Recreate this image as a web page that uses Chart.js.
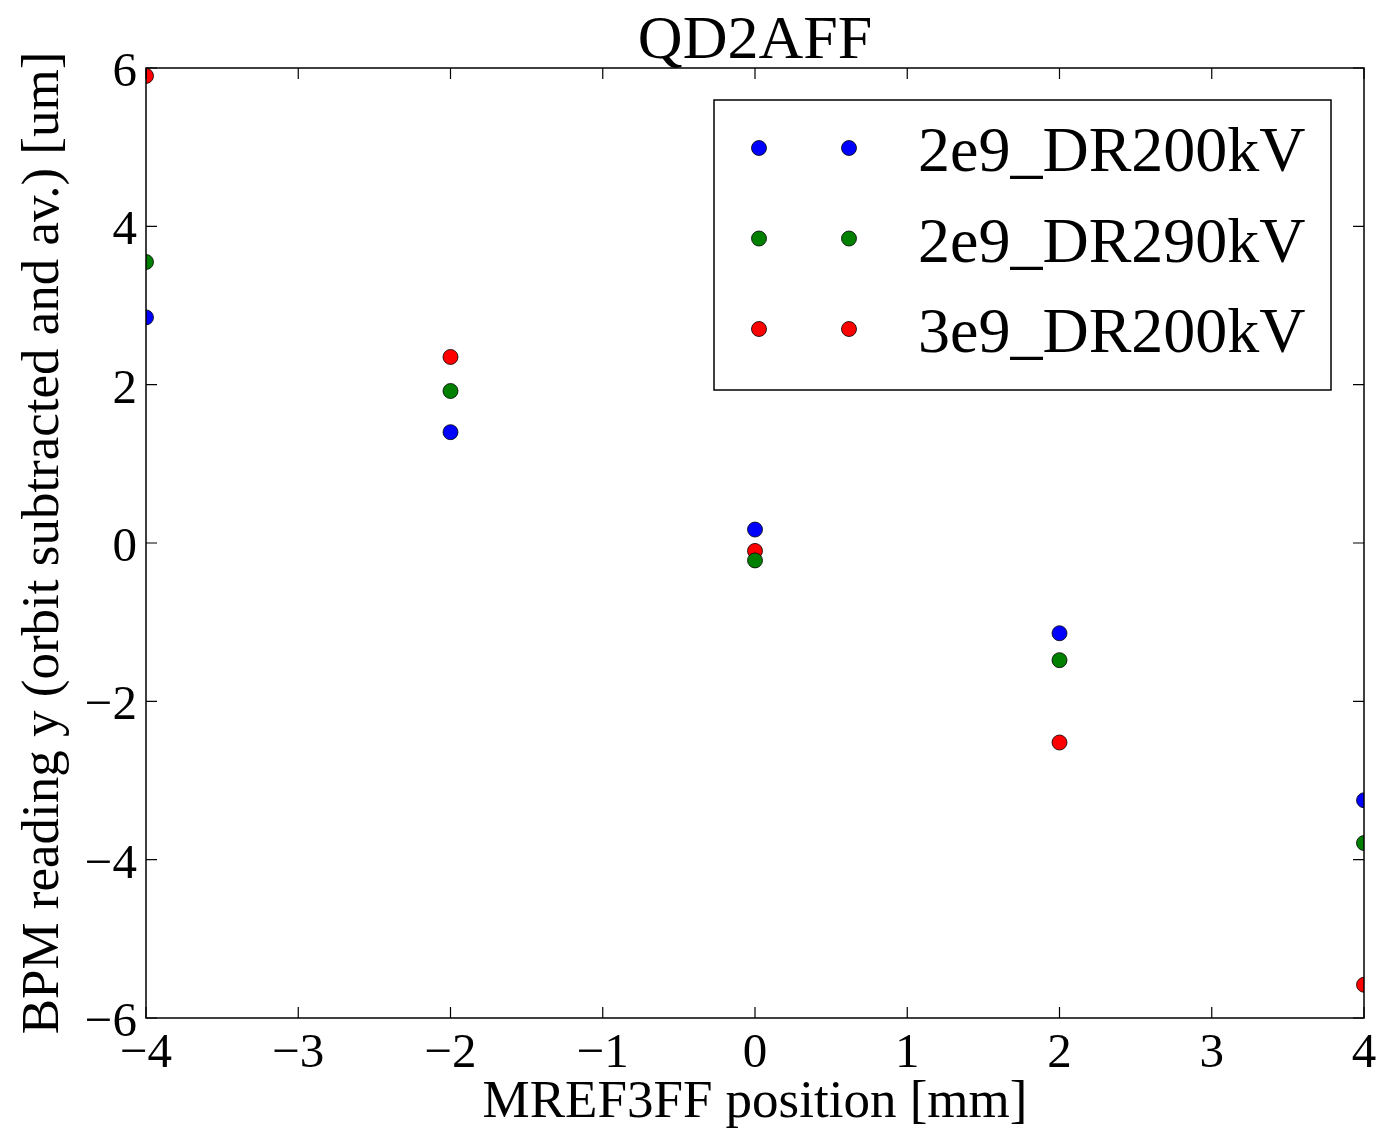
<!DOCTYPE html>
<html>
<head>
<meta charset="utf-8">
<title>QD2AFF</title>
<script src="https://cdn.jsdelivr.net/npm/chart.js@4.4.1/dist/chart.umd.min.js"></script>
<style>
  html, body { margin: 0; padding: 0; background: #fff; }
  canvas { display: block; }
</style>
</head>
<body>
<canvas id="chart" width="1379" height="1130"></canvas>
<script>
// datos
const positions = [-4, -2, 0, 2, 4];
const seriesNames = ['2e9_DR200kV', '2e9_DR290kV', '3e9_DR200kV'];
const dr200_2e9 = [2.85, 1.40, 0.17, -1.14, -3.25];
const dr290_2e9 = [3.55, 1.92, -0.22, -1.48, -3.79];
const dr200_3e9 = [5.90, 2.35, -0.10, -2.52, -5.58];
const seriesColors = ['#0000ff', '#008000', '#ff0000'];
const xTicks = [-4, -3, -2, -1, 0, 1, 2, 3, 4];
const yTicks = [-6, -4, -2, 0, 2, 4, 6];

const serif = '"Liberation Serif", "Times New Roman", serif';
const fmt = v => (v < 0 ? '\u2212' + Math.abs(v) : String(v));

function toPoints(values) {
    return positions.map((x, i) => ({ x: x, y: values[i] }));
}

const allSeries = [dr200_2e9, dr290_2e9, dr200_3e9];

// ejes, ticks, titulos y leyenda al estilo matplotlib
const axesPlugin = {
    id: 'axesPlugin',
    afterDraw(chart) {
        const ctx = chart.ctx;
        const a = chart.chartArea;
        const xs = chart.scales.x;
        const ys = chart.scales.y;
        ctx.save();
        ctx.strokeStyle = '#000';
        ctx.lineWidth = 1.5;
        ctx.strokeRect(a.left, a.top, a.right - a.left, a.bottom - a.top);

        const tl = 11;
        ctx.lineWidth = 1.2;
        ctx.beginPath();
        xTicks.forEach(v => {
            const px = xs.getPixelForValue(v);
            ctx.moveTo(px, a.bottom); ctx.lineTo(px, a.bottom - tl);
            ctx.moveTo(px, a.top); ctx.lineTo(px, a.top + tl);
        });
        yTicks.forEach(v => {
            const py = ys.getPixelForValue(v);
            ctx.moveTo(a.left, py); ctx.lineTo(a.left + tl, py);
            ctx.moveTo(a.right, py); ctx.lineTo(a.right - tl, py);
        });
        ctx.stroke();

        ctx.fillStyle = '#000';
        ctx.font = '49px ' + serif;
        ctx.textAlign = 'center';
        ctx.textBaseline = 'alphabetic';
        xTicks.forEach(v => {
            ctx.fillText(fmt(v), xs.getPixelForValue(v), a.bottom + 49);
        });
        ctx.textAlign = 'right';
        yTicks.forEach(v => {
            ctx.fillText(fmt(v), a.left - 9, ys.getPixelForValue(v) + 18);
        });

        // titulo y etiquetas
        ctx.textAlign = 'center';
        ctx.font = '62px ' + serif;
        ctx.fillText('QD2AFF', (a.left + a.right) / 2, 58);
        ctx.font = '53px ' + serif;
        ctx.fillText('MREF3FF position [mm]', (a.left + a.right) / 2, 1117);
        ctx.save();
        ctx.translate(58, (a.top + a.bottom) / 2);
        ctx.rotate(-Math.PI / 2);
        ctx.fillText('BPM reading y (orbit subtracted and av.) [um]', 0, 0);
        ctx.restore();

        // leyenda
        const lx = 714, ly = 100, lw = 617, lh = 290;
        ctx.fillStyle = '#fff';
        ctx.fillRect(lx, ly, lw, lh);
        ctx.strokeStyle = '#000';
        ctx.lineWidth = 1.5;
        ctx.strokeRect(lx, ly, lw, lh);
        ctx.font = '64px ' + serif;
        ctx.textAlign = 'left';
        seriesNames.forEach((name, i) => {
            const cy = 148 + i * 90.5;
            [759, 849].forEach(mx => {
                ctx.beginPath();
                ctx.arc(mx, cy, 7.5, 0, Math.PI * 2);
                ctx.fillStyle = seriesColors[i];
                ctx.fill();
                ctx.lineWidth = 0.8;
                ctx.strokeStyle = '#000';
                ctx.stroke();
            });
            ctx.fillStyle = '#000';
            ctx.fillText(name, 918, cy + 23);
        });
        ctx.restore();
    }
};

function drawChart() {
    new Chart(document.getElementById('chart'), {
        type: 'scatter',
        data: {
            datasets: allSeries.map((vals, i) => ({
                label: seriesNames[i],
                data: toPoints(vals),
                backgroundColor: seriesColors[i],
                borderColor: '#000',
                borderWidth: 0.8,
                pointRadius: 7.5,
                pointHoverRadius: 7.5,
                clip: 0
            }))
        },
        options: {
            responsive: false,
            animation: false,
            devicePixelRatio: 1,
            layout: {
                padding: { left: 146, top: 68, right: 15, bottom: 112 }
            },
            plugins: {
                legend: { display: false },
                tooltip: { enabled: false },
                title: { display: false }
            },
            scales: {
                x: { type: 'linear', min: -4, max: 4, display: false },
                y: { type: 'linear', min: -6, max: 6, display: false }
            }
        },
        plugins: [axesPlugin]
    });
}

// esperar a la fuente serif antes de dibujar
const fontLoads = ['49px', '53px', '62px', '64px'].map(s =>
    document.fonts.load(s + ' "Liberation Serif"', '2e9_DR\u2212QBPM'));
Promise.all(fontLoads).then(drawChart, drawChart);
</script>
</body>
</html>
